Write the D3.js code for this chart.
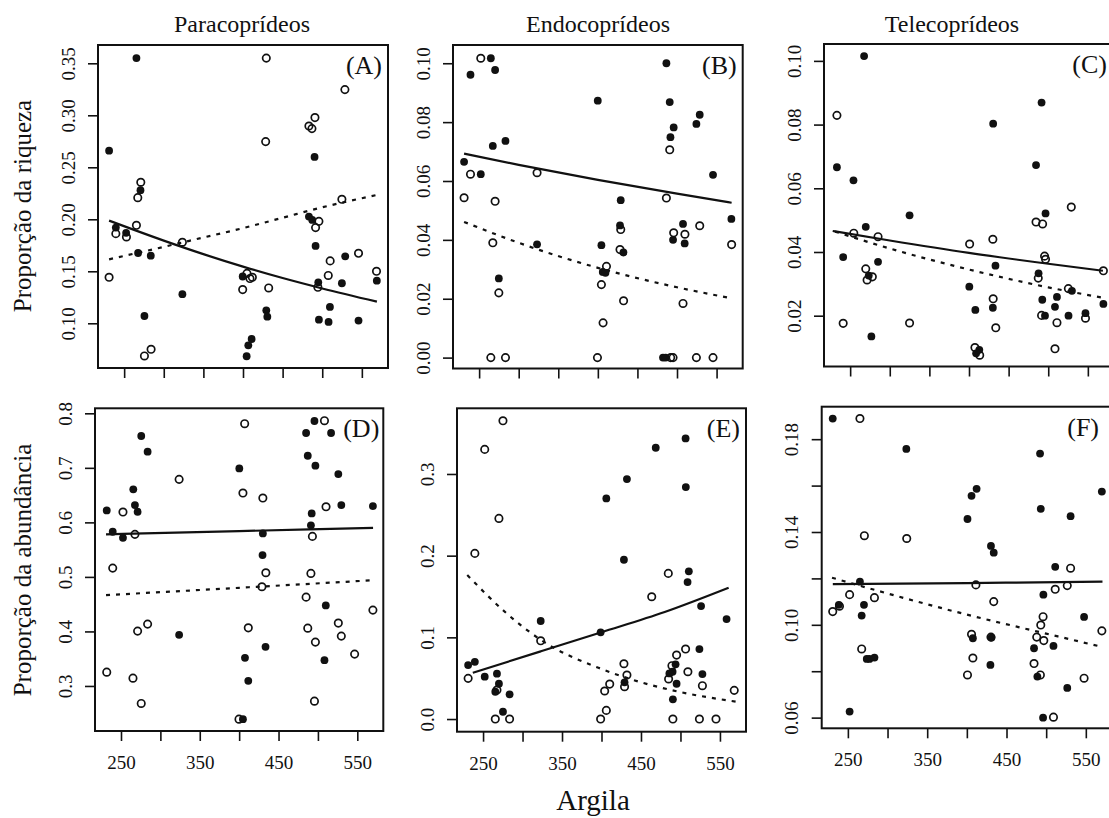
<!DOCTYPE html>
<html>
<head>
<meta charset="utf-8">
<script src="https://cdn.jsdelivr.net/npm/d3@7"></script>
<style>
  html, body { margin: 0; padding: 0; background: #fff; }
  svg { display: block; }
  text { font-family: "Liberation Serif", "Times New Roman", "DejaVu Serif", serif; fill: #111; }
</style>
</head>
<body>
<svg id="chart" width="1109" height="818"></svg>
<script>
// ---------------- DATA ----------------
const columnTitles = ["Paracoprídeos", "Endocoprídeos", "Telecoprídeos"];
const rowTitles = ["Proporção da riqueza", "Proporção da abundância"];
const xTitle = "Argila";
const panelLetters = ["(A)", "(B)", "(C)", "(D)", "(E)", "(F)"];

const xTicks = [250, 300, 350, 400, 450, 500, 550];
const xTickLabels = ["250", "", "350", "", "450", "", "550"];

const yTicksA = [0.10, 0.15, 0.20, 0.25, 0.30, 0.35];
const yLabelsA = ["0.10", "0.15", "0.20", "0.25", "0.30", "0.35"];
const yTicksB = [0.00, 0.02, 0.04, 0.06, 0.08, 0.10];
const yLabelsB = ["0.00", "0.02", "0.04", "0.06", "0.08", "0.10"];
const yTicksC = [0.02, 0.04, 0.06, 0.08, 0.10];
const yLabelsC = ["0.02", "0.04", "0.06", "0.08", "0.10"];
const yTicksD = [0.3, 0.4, 0.5, 0.6, 0.7, 0.8];
const yLabelsD = ["0.3", "0.4", "0.5", "0.6", "0.7", "0.8"];
const yTicksE = [0.0, 0.1, 0.2, 0.3];
const yLabelsE = ["0.0", "0.1", "0.2", "0.3"];
const yTicksF = [0.06, 0.08, 0.10, 0.12, 0.14, 0.16, 0.18];
const yLabelsF = ["0.06", "", "0.10", "", "0.14", "", "0.18"];

// Panel A – riqueza, Paracoprídeos
const filledA = [[265.5,0.355],[231,0.266],[270.6,0.228],[239.5,0.192],[252.5,0.187],[267.6,0.1676],[283.6,0.165],[323.5,0.128],[275.6,0.107],[490.3,0.260],[483.2,0.2026],[487.4,0.1994],[491.6,0.1744],[529,0.1644],[399.6,0.145],[429.4,0.1125],[430.7,0.1064],[495,0.1394],[524.8,0.1385],[568.9,0.141],[404.6,0.0683],[406.7,0.0788],[410.9,0.0849],[495.8,0.1035],[508,0.1013],[509.7,0.1157],[545.8,0.1026]];
const openA = [[429.4,0.355],[528.6,0.3247],[490.8,0.2978],[483.2,0.2897],[487,0.2872],[428.6,0.2747],[271,0.2356],[267.2,0.2208],[265.5,0.1942],[239.5,0.1862],[252.9,0.183],[231,0.1442],[323.5,0.1779],[524.8,0.2192],[495.8,0.198],[491.6,0.192],[405,0.148],[408.8,0.143],[411.8,0.1442],[399.6,0.1324],[432.4,0.134],[510,0.16],[507.6,0.146],[545.8,0.1673],[568.5,0.15],[494.5,0.1346],[275.6,0.0686],[284,0.075]];
const solidA = [[231,0.1987],[300,0.1795],[350,0.1665],[400,0.1545],[450,0.1435],[500,0.1335],[569,0.1208]];
const dashedA = [[231,0.1615],[300,0.1735],[350,0.1825],[400,0.1915],[450,0.2015],[500,0.2115],[569,0.2234]];

// Panel B – riqueza, Endocoprídeos
const filledB = [[239.1,0.0961],[264.8,0.1017],[270.2,0.0977],[267.3,0.0719],[283.3,0.0736],[231,0.0665],[252.1,0.0623],[399.9,0.0873],[323.2,0.0385],[274.9,0.0269],[428.9,0.0535],[428,0.0449],[432.3,0.0357],[404.5,0.0382],[406.2,0.0291],[409.6,0.0288],[486.6,0.1],[490.8,0.0868],[495.8,0.0782],[491.7,0.0749],[524.5,0.0794],[528.7,0.0825],[545.5,0.0621],[507.6,0.0454],[495,0.04],[509.7,0.0388],[568.7,0.0471],[482.3,0],[485.7,0]];
const openB = [[252.1,0.1017],[239.1,0.0623],[231,0.0543],[270.2,0.0531],[323.2,0.0628],[267.3,0.039],[274.9,0.022],[264.8,0],[283.3,0],[428.9,0.0435],[428,0.0367],[410.9,0.031],[404.5,0.0248],[406.6,0.0118],[432.5,0.0193],[507.6,0.0184],[486.6,0.0542],[490.8,0.0706],[495.8,0.0424],[510,0.0419],[528.7,0.0448],[569,0.0384],[399.5,0],[492,0],[495,0],[524.5,0],[545.5,0]];
const solidB = [[231,0.0693],[300,0.0655],[400,0.0604],[500,0.0557],[569,0.0526]];
const dashedB = [[231,0.0461],[300,0.039],[400,0.0305],[500,0.0239],[566,0.0203]];

// Panel C – riqueza, Telecoprídeos
const filledC = [[267.6,0.1015],[233.3,0.0666],[254.2,0.0625],[269.7,0.0479],[241.2,0.0384],[285.2,0.0369],[276.8,0.0135],[273.5,0.0326],[325,0.0515],[430.5,0.0803],[433.4,0.0357],[430.1,0.0225],[400.4,0.0291],[408,0.0218],[409,0.0082],[413,0.0093],[491.6,0.0869],[484.6,0.0673],[496.6,0.0521],[487.8,0.0333],[492.5,0.025],[495.9,0.02],[511,0.0259],[508.5,0.0228],[525.6,0.02],[529.9,0.0278],[547,0.0208],[569.6,0.0237]];
const openC = [[233.3,0.0829],[254.6,0.0459],[285.2,0.0448],[269.7,0.0347],[271.4,0.0312],[278,0.0322],[241.2,0.0176],[325,0.0177],[400.8,0.0425],[430.1,0.044],[430.5,0.0253],[433.8,0.0162],[484.6,0.0494],[492.9,0.0488],[495.4,0.0387],[496.6,0.0377],[487.4,0.0318],[491.6,0.0201],[511,0.0178],[508.5,0.0096],[529.1,0.0541],[525.4,0.0285],[547,0.0192],[569.6,0.0341],[407.5,0.01],[413.5,0.0076]];
const solidC = [[228,0.0466],[300,0.0436],[400,0.0397],[500,0.0363],[569,0.0341]];
const dashedC = [[231,0.0464],[300,0.0411],[400,0.0345],[500,0.0289],[572,0.0255]];

// Panel D – abundância, Paracoprídeos
const filledD = [[231.9,0.622],[239.5,0.5828],[252.5,0.5717],[265.6,0.6606],[267.7,0.6318],[271.1,0.6195],[275.7,0.7584],[283.8,0.7296],[323.8,0.3938],[400.2,0.699],[430.1,0.5798],[429.7,0.54],[433.5,0.3718],[407.4,0.3516],[411.6,0.3094],[404.8,0.2391],[485,0.7639],[495.6,0.7859],[516.7,0.7639],[487.1,0.7222],[496.8,0.7039],[525.9,0.6886],[529.7,0.6318],[569.8,0.6299],[492.1,0.6165],[491.1,0.5945],[510,0.4477],[508.3,0.3473]];
const openD = [[231.9,0.3253],[239.5,0.5161],[252.5,0.6189],[267.7,0.578],[265.2,0.3143],[271.1,0.4006],[283.8,0.4134],[275.7,0.2679],[323.8,0.6789],[407,0.781],[404.8,0.6538],[430.1,0.6446],[433.9,0.5076],[428.9,0.4819],[411.6,0.4066],[399.8,0.2391],[508.3,0.7865],[510.3,0.6286],[493,0.5743],[491.1,0.5064],[485,0.4629],[487.1,0.406],[496.8,0.3804],[495.6,0.2721],[525.9,0.4153],[529.7,0.3914],[546.6,0.3584],[569.8,0.4391]];
const solidD = [[231,0.578],[400,0.584],[570,0.590]];
const dashedD = [[231,0.4666],[400,0.480],[566,0.4936]];

// Panel E – abundância, Endocoprídeos
const filledE = [[231.1,0.0661],[239.6,0.0701],[252.1,0.0518],[267.6,0.0555],[270.1,0.0432],[265.5,0.0334],[275.2,0.0089],[283.6,0.0302],[323,0.12],[398.9,0.1061],[406.1,0.2701],[432.2,0.2938],[428.4,0.195],[429.2,0.0449],[468.7,0.3321],[506.5,0.3435],[506.8,0.284],[510.6,0.1808],[509,0.1677],[526.1,0.1383],[558.4,0.1224],[524,0.0857],[527.8,0.0551],[490.4,0.0241],[495.1,0.0432],[493.8,0.067],[490,0.0579],[486,0.0559]];
const openE = [[231.1,0.0498],[239.6,0.2028],[252.1,0.3301],[270.1,0.2456],[275.2,0.3651],[267.6,0.0355],[265.5,0],[283.6,0],[323,0.0958],[398.9,0],[404,0.0343],[406.1,0.0106],[410.4,0.0428],[428.4,0.0677],[432.2,0.0539],[429.2,0.0396],[463.6,0.1497],[484.6,0.1783],[485,0.049],[489.2,0.0653],[495.1,0.0783],[506.5,0.0857],[509.4,0.0579],[527.8,0.0408],[490.4,0],[524,0],[545,0],[568.1,0.0351]];
const solidE = [[237,0.0567],[323,0.0828],[399,0.106],[480,0.131],[561,0.1607]];
const dashedE = [[230,0.1763],[280,0.1292],[323,0.097],[400,0.0613],[450,0.045],[500,0.033],[571,0.0212]];

// Panel F – abundância, Telecoprídeos
const filledF = [[230.9,0.1889],[323.7,0.1758],[265.2,0.1186],[238.6,0.1086],[270.3,0.1086],[267.4,0.104],[273.8,0.0853],[277.2,0.0853],[283.5,0.0859],[252.2,0.0626],[400.8,0.1456],[405.9,0.1556],[412.3,0.1586],[430.4,0.134],[433.9,0.1311],[407.6,0.0942],[429.7,0.0827],[492.3,0.1738],[493.2,0.15],[530.8,0.1468],[570.2,0.1574],[511.4,0.125],[496.5,0.113],[547.8,0.1034],[484.7,0.0899],[509.2,0.0909],[488.9,0.0777],[496.1,0.06],[526.6,0.0728],[431,0.0945]];
const openF = [[265.2,0.1889],[270.8,0.1384],[324.2,0.1372],[230.9,0.1057],[239.4,0.108],[252.2,0.113],[283.5,0.1117],[267.4,0.0896],[411.4,0.1172],[433.9,0.11],[405.9,0.0959],[430.4,0.0947],[407.6,0.0857],[400.8,0.0784],[530.8,0.1244],[511.4,0.1153],[526.6,0.1169],[496.1,0.1035],[493.2,0.0999],[488.1,0.0947],[497,0.0932],[484.7,0.0833],[492.7,0.0784],[509.2,0.0602],[547.8,0.077],[570.2,0.0974]];
const solidF = [[231,0.1175],[400,0.118],[571,0.1186]];
const dashedF = [[230,0.1203],[300,0.1135],[400,0.1044],[500,0.0962],[569,0.0906]];

// ---------------- LAYOUT ----------------
const xDomain = [217, 583];
const panels = [
  {box:{l:98,  r:388,   t:45,    b:368},   yDom:[0.057, 0.3676],   yT:yTicksA, yL:yLabelsA, f:filledA, o:openA, s:solidA, d:dashedA, lab:panelLetters[0], bottom:false, labDx:6},
  {box:{l:453, r:742.7, t:45,    b:368.5}, yDom:[-0.0037, 0.1062], yT:yTicksB, yL:yLabelsB, f:filledB, o:openB, s:solidB, d:dashedB, lab:panelLetters[1], bottom:false, labDx:6},
  {box:{l:824, r:1114,  t:44,    b:366.5}, yDom:[0.00405, 0.1053], yT:yTicksC, yL:yLabelsC, f:filledC, o:openC, s:solidC, d:dashedC, lab:panelLetters[2], bottom:false, labDx:7},
  {box:{l:95,  r:383.3, t:408.3, b:731},   yDom:[0.2174, 0.8092],  yT:yTicksD, yL:yLabelsD, f:filledD, o:openD, s:solidD, d:dashedD, lab:panelLetters[3], bottom:true, labDx:4},
  {box:{l:457, r:746,   t:408.3, b:731.7}, yDom:[-0.0155, 0.3804], yT:yTicksE, yL:yLabelsE, f:filledE, o:openE, s:solidE, d:dashedE, lab:panelLetters[4], bottom:true, labDx:6},
  {box:{l:821.7, r:1112, t:406.7, b:728.3},yDom:[0.0554, 0.194],   yT:yTicksF, yL:yLabelsF, f:filledF, o:openF, s:solidF, d:dashedF, lab:panelLetters[5], bottom:true, labDx:13}
];

const serif = '"Liberation Serif", "Times New Roman", "DejaVu Serif", serif';
const svg = d3.select("#chart");
svg.append("rect").attr("width", 1109).attr("height", 818).attr("fill", "#fff");

const tickFont = 19;

panels.forEach(p => {
  const x = d3.scaleLinear().domain(xDomain).range([p.box.l, p.box.r]);
  const y = d3.scaleLinear().domain(p.yDom).range([p.box.b, p.box.t]);
  const g = svg.append("g");

  // y axis
  const ya = g.append("g").attr("transform", `translate(${p.box.l},0)`)
    .call(d3.axisLeft(y).tickValues(p.yT).tickSize(10).tickFormat((d, i) => p.yL[i]));
  ya.attr("font-family", serif);
  ya.select(".domain").remove();
  ya.selectAll(".tick line").attr("stroke", "#111").attr("stroke-width", 1.6);
  ya.selectAll(".tick text")
    .attr("x", null).attr("dy", "0.35em")
    .attr("transform", "translate(-30,0) rotate(-90)")
    .attr("text-anchor", "middle")
    .style("font-family", serif)
    .style("font-size", tickFont + "px")
    .attr("fill", "#222");

  // x axis
  const xa = g.append("g").attr("transform", `translate(0,${p.box.b})`)
    .call(d3.axisBottom(x).tickValues(xTicks).tickSize(10)
      .tickFormat((d, i) => p.bottom ? xTickLabels[i] : ""));
  xa.attr("font-family", serif);
  xa.select(".domain").remove();
  xa.selectAll(".tick line").attr("stroke", "#111").attr("stroke-width", 1.6);
  xa.selectAll(".tick text")
    .attr("y", 38).attr("dy", null)
    .style("font-family", serif)
    .style("font-size", tickFont + "px")
    .attr("fill", "#222");

  // fitted lines
  const line = d3.line().x(d => x(d[0])).y(d => y(d[1])).curve(d3.curveMonotoneX);
  g.append("path").datum(p.s).attr("d", line)
    .attr("fill", "none").attr("stroke", "#111").attr("stroke-width", 2.2);
  g.append("path").datum(p.d).attr("d", line)
    .attr("fill", "none").attr("stroke", "#111").attr("stroke-width", 2.2)
    .attr("stroke-dasharray", "4,6");

  // points
  g.append("g").selectAll("circle").data(p.f).join("circle")
    .attr("cx", d => x(d[0])).attr("cy", d => y(d[1])).attr("r", 3.9)
    .attr("fill", "#111");
  g.append("g").selectAll("circle").data(p.o).join("circle")
    .attr("cx", d => x(d[0])).attr("cy", d => y(d[1])).attr("r", 3.7)
    .attr("fill", "none").attr("stroke", "#111").attr("stroke-width", 1.7);

  // box
  g.append("rect").attr("x", p.box.l).attr("y", p.box.t)
    .attr("width", p.box.r - p.box.l).attr("height", p.box.b - p.box.t)
    .attr("fill", "none").attr("stroke", "#111").attr("stroke-width", 2);

  // panel letter
  g.append("text").attr("x", p.box.r - p.labDx).attr("y", p.box.t + 29)
    .attr("text-anchor", "end").style("font-family", serif).style("font-size", "26px").attr("fill", "#222")
    .text(p.lab);
});

// column titles
const titleX = [242, 598, 952];
columnTitles.forEach((t, i) => {
  svg.append("text").attr("x", titleX[i]).attr("y", 32)
    .attr("text-anchor", "middle").style("font-family", serif).style("font-size", "24px").attr("fill", "#222").text(t);
});

// row titles
const rowY = [206, 570];
rowTitles.forEach((t, i) => {
  svg.append("text").attr("transform", `translate(22,${rowY[i]}) rotate(-90)`)
    .attr("dy", "0.35em").attr("text-anchor", "middle")
    .style("font-family", serif).style("font-size", "25px").attr("fill", "#222").text(t);
});

// x title
svg.append("text").attr("x", 593).attr("y", 810).attr("text-anchor", "middle")
  .style("font-family", serif).style("font-size", "29px").attr("fill", "#222").text(xTitle);
</script>
</body>
</html>
